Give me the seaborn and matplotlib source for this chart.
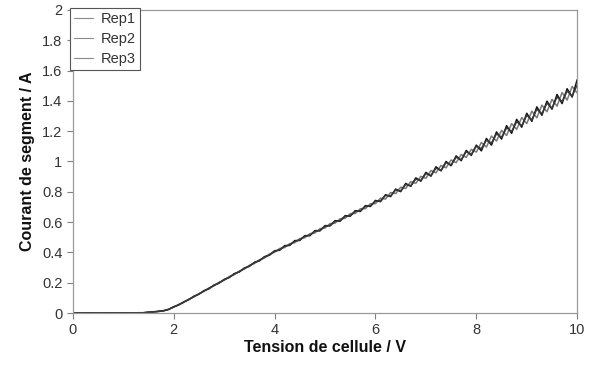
import numpy as np
import pandas as pd
import matplotlib
matplotlib.use("Agg")
import matplotlib.pyplot as plt
import seaborn as sns

voltage = [round(0.1 * i, 1) for i in range(101)]

zeros_low = [0.0, 0.0, 0.0, 0.001, 0.0, 0.0, 0.0, 0.0, 0.001, 0.0, 0.001, 0.0, 0.001, 0.002, 0.002]

rep1 = zeros_low + [
    .004, .009, .011, .014, .026, .038, .057, .070, .092, .106, .128, .143, .166, .180, .203, .216,
    .240, .253, .277, .290, .315, .327, .352, .363, .390, .401,
    .426, .432, .458, .464, .492, .497, .524, .528, .557, .561, .590, .593, .622, .625, .656, .657,
    .688, .689, .721, .722,
    .758, .752, .795, .788, .830, .822, .867, .856, .902, .889, .940, .925, .974, .958, 1.010, .992,
    1.046, 1.027, 1.080, 1.062,
    1.125, 1.095, 1.168, 1.135, 1.205, 1.172, 1.250, 1.212, 1.290, 1.250, 1.332, 1.288, 1.372, 1.328,
    1.410, 1.365, 1.455, 1.405, 1.495, 1.452]

rep2 = zeros_low + [
    .006, .007, .012, .016, .023, .042, .053, .074, .088, .111, .124, .148, .160, .185, .197, .222,
    .234, .260, .271, .297, .308, .335, .344, .372, .382, .411,
    .414, .445, .446, .478, .479, .511, .510, .544, .542, .577, .575, .610, .606, .643, .639, .676,
    .670, .709, .703, .743,
    .735, .781, .768, .818, .801, .855, .836, .892, .870, .928, .903, .965, .938, 1.000, .972, 1.037,
    1.005, 1.073, 1.040, 1.108,
    1.070, 1.152, 1.108, 1.195, 1.148, 1.236, 1.186, 1.278, 1.226, 1.318, 1.265, 1.360, 1.305, 1.398,
    1.345, 1.442, 1.382, 1.480, 1.425, 1.540]

rep3 = zeros_low + [
    .005, .008, .010, .015, .025, .040, .055, .072, .090, .108, .126, .145, .163, .182, .200, .219,
    .236, .257, .273, .294, .310, .332, .347, .369, .384, .407,
    .418, .440, .450, .473, .482, .507, .514, .539, .546, .572, .579, .605, .610, .638, .643, .670,
    .675, .703, .708, .737,
    .740, .776, .772, .812, .806, .848, .840, .884, .875, .920, .908, .956, .942, .992, .978, 1.028,
    1.012, 1.064, 1.047, 1.100,
    1.085, 1.140, 1.122, 1.182, 1.160, 1.222, 1.198, 1.262, 1.236, 1.305, 1.275, 1.345, 1.315, 1.385,
    1.352, 1.425, 1.395, 1.465, 1.432, 1.505]

series_names = ["Rep1", "Rep2", "Rep3"]
x_ticks = [0, 2, 4, 6, 8, 10]
y_ticks = [0, 0.2, 0.4, 0.6, 0.8, 1, 1.2, 1.4, 1.6, 1.8, 2]
y_tick_labels = ["0", "0.2", "0.4", "0.6", "0.8", "1", "1.2", "1.4", "1.6", "1.8", "2"]

df = pd.concat([
    pd.DataFrame({"V": voltage, "I": vals, "Rep": name})
    for name, vals in zip(series_names, [rep1, rep2, rep3])
])

sns.set_theme(style="white")
plt.rcParams['font.family'] = ['Liberation Sans', 'DejaVu Sans']

fig = plt.figure(figsize=(5.92, 3.67), dpi=100)
ax = fig.add_axes([0.123, 0.147, 0.852, 0.826])

palette = {"Rep1": "#7a7a7a", "Rep2": "#111111", "Rep3": "#3a3a3a"}
sns.lineplot(data=df, x="V", y="I", hue="Rep", palette=palette, linewidth=1.1,
             ax=ax, sort=False, estimator=None)

ax.set_xlim(0, 10)
ax.set_ylim(0, 2)
ax.set_xticks(x_ticks)
ax.set_xticklabels([str(t) for t in x_ticks])
ax.set_yticks(y_ticks)
ax.set_yticklabels(y_tick_labels)
ax.tick_params(axis='both', which='major', direction='out', length=4, width=0.8,
               color='#808080', labelcolor='#333333', labelsize=10.5, bottom=True, left=True)
ax.set_xlabel("Tension de cellule / V", fontsize=11.5, fontweight='bold', color='#111111', labelpad=2)
ax.set_ylabel("Courant de segment / A", fontsize=11.5, fontweight='bold', color='#111111', labelpad=5)
for s in ax.spines.values():
    s.set_color('#9a9a9a')
    s.set_linewidth(0.9)

handles, labels = ax.get_legend_handles_labels()
for h in handles:
    h.set_color('#8a8a8a')
    h.set_linewidth(0.8)
leg = ax.legend(handles, labels, loc='upper left', bbox_to_anchor=(-0.006, 1.007),
                borderaxespad=0, fancybox=False, framealpha=1, edgecolor='#555555',
                fontsize=10.5, handlelength=1.3, handletextpad=0.5, labelspacing=0.4,
                borderpad=0.3)
leg.get_frame().set_linewidth(0.8)
for t in leg.get_texts():
    t.set_color('#333333')

fig.savefig("out.png", dpi=100, facecolor='white')
